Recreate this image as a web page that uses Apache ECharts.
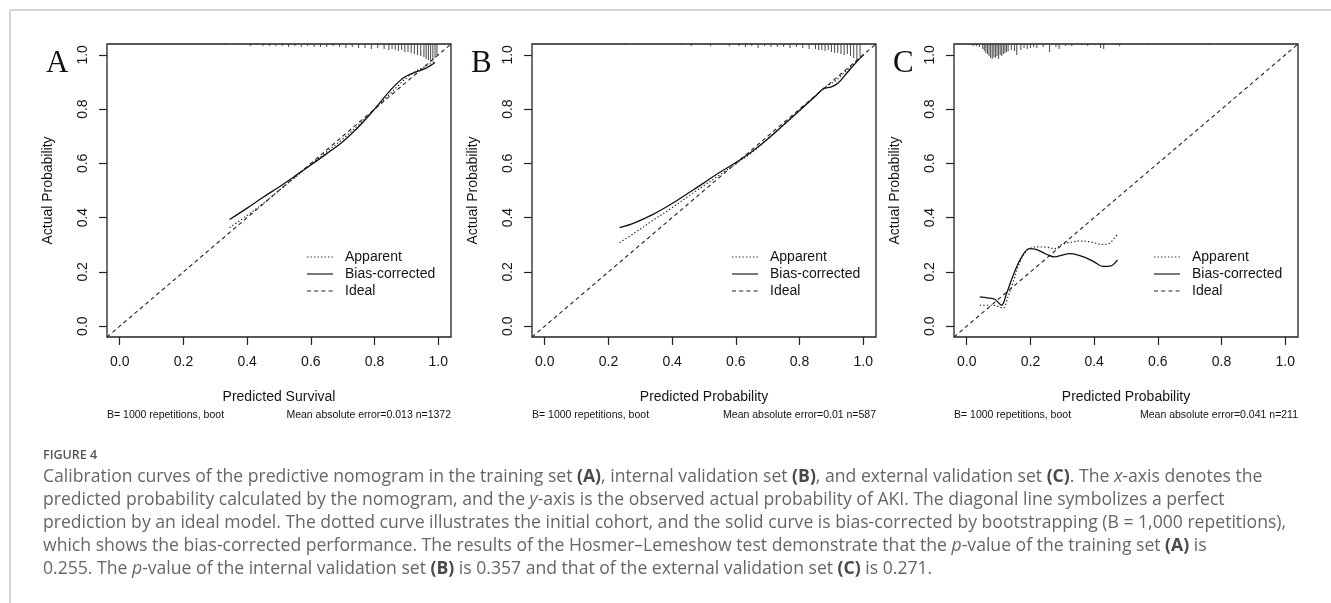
<!DOCTYPE html>
<html><head><meta charset="utf-8">
<script src="https://cdn.jsdelivr.net/npm/echarts@6/dist/echarts.min.js"></script>
<style>html,body{margin:0;padding:0;background:#fff}#c{width:1331px;height:603px}</style>
</head><body><div id="c"></div>
<script>
// ---------- DATA ----------
const tickValues = [0, 0.2, 0.4, 0.6, 0.8, 1.0];
const panelLetters = ['A', 'B', 'C'];
const xTitles = ['Predicted Survival', 'Predicted Probability', 'Predicted Probability'];
const yTitle = 'Actual Probability';
const footLeft = 'B= 1000 repetitions, boot';
const footRight = ['Mean absolute error=0.013 n=1372', 'Mean absolute error=0.01 n=587', 'Mean absolute error=0.041 n=211'];
const legendNames = ['Apparent', 'Bias-corrected', 'Ideal'];

const idealX = [-0.04, 1.04];
const idealY = [-0.04, 1.04];

// Panel A
const aBiasX = [0.345, 0.40, 0.45, 0.50, 0.55, 0.60, 0.65, 0.70, 0.75, 0.80, 0.85, 0.88, 0.90, 0.93, 0.96, 0.99];
const aBiasY = [0.393, 0.435, 0.475, 0.513, 0.553, 0.594, 0.636, 0.680, 0.735, 0.800, 0.870, 0.905, 0.922, 0.937, 0.950, 0.972];
const aAppX  = [0.345, 0.40, 0.45, 0.50, 0.55, 0.60, 0.65, 0.70, 0.75, 0.80, 0.85, 0.88, 0.90, 0.93, 0.96, 0.99];
const aAppY  = [0.363, 0.408, 0.452, 0.500, 0.548, 0.596, 0.643, 0.690, 0.742, 0.800, 0.858, 0.893, 0.915, 0.940, 0.957, 0.978];
const aRugX = [0.33,0.36,0.39,0.41,0.43,0.45,0.47,0.49,0.51,0.53,0.55,0.57,0.59,0.61,0.63,0.65,0.67,0.69,0.71,0.73,0.75,0.77,0.79,0.81,0.83,0.845,0.855,0.865,0.875,0.885,0.895,0.905,0.915,0.925,0.935,0.945,0.955,0.962,0.969,0.976,0.983,0.99,0.996];
const aRugN = [1,1,1,2,1,2,2,2,2,3,2,3,2,3,3,3,2,3,4,3,4,4,5,4,5,6,5,6,7,6,8,8,9,10,11,12,13,15,16,17,16,14,11];

// Panel B
const bBiasX = [0.235, 0.28, 0.34, 0.40, 0.45, 0.50, 0.54, 0.60, 0.65, 0.70, 0.75, 0.80, 0.85, 0.875, 0.90, 0.92, 0.95, 0.98, 1.0];
const bBiasY = [0.363, 0.380, 0.412, 0.452, 0.490, 0.528, 0.560, 0.603, 0.643, 0.690, 0.742, 0.795, 0.848, 0.875, 0.882, 0.895, 0.935, 0.975, 1.0];
const bAppX  = [0.235, 0.28, 0.34, 0.40, 0.45, 0.50, 0.54, 0.60, 0.65, 0.70, 0.75, 0.80, 0.85, 0.875, 0.90, 0.92, 0.95, 0.98, 1.0];
const bAppY  = [0.308, 0.342, 0.390, 0.437, 0.478, 0.518, 0.550, 0.598, 0.640, 0.690, 0.742, 0.795, 0.848, 0.877, 0.895, 0.912, 0.945, 0.978, 1.0];
const bRugX = [0.25,0.29,0.33,0.36,0.40,0.43,0.46,0.49,0.52,0.55,0.58,0.61,0.63,0.65,0.67,0.69,0.71,0.73,0.75,0.77,0.79,0.81,0.83,0.85,0.86,0.87,0.88,0.89,0.90,0.91,0.92,0.93,0.94,0.95,0.96,0.97,0.98,0.99];
const bRugN = [1,1,1,1,1,1,2,1,2,1,2,2,3,2,4,2,3,3,3,4,3,4,5,5,6,6,7,6,8,9,9,10,11,10,12,14,16,13];

// Panel C
const cBiasX = [0.041, 0.065, 0.088, 0.109, 0.125, 0.145, 0.170, 0.197, 0.220, 0.250, 0.276, 0.300, 0.323, 0.350, 0.375, 0.400, 0.427, 0.453, 0.473];
const cBiasY = [0.108, 0.104, 0.099, 0.077, 0.120, 0.185, 0.250, 0.286, 0.282, 0.265, 0.255, 0.262, 0.267, 0.262, 0.252, 0.237, 0.220, 0.222, 0.244];
const cAppX  = [0.041, 0.083, 0.100, 0.114, 0.130, 0.145, 0.165, 0.187, 0.218, 0.250, 0.276, 0.300, 0.330, 0.354, 0.390, 0.427, 0.447, 0.473];
const cAppY  = [0.077, 0.077, 0.072, 0.066, 0.110, 0.160, 0.230, 0.277, 0.292, 0.291, 0.286, 0.302, 0.310, 0.314, 0.310, 0.301, 0.305, 0.338];
const cRugX = [0.01,0.02,0.03,0.04,0.05,0.055,0.06,0.065,0.07,0.075,0.08,0.085,0.09,0.095,0.10,0.105,0.11,0.115,0.12,0.125,0.13,0.14,0.15,0.157,0.17,0.18,0.19,0.20,0.21,0.22,0.24,0.26,0.28,0.29,0.31,0.33,0.36,0.38,0.40,0.42,0.43,0.47,0.48,0.57,0.76];
const cRugN = [1,2,2,3,5,7,9,10,12,14,15,13,14,12,15,11,12,10,9,8,7,6,7,11,6,4,5,4,3,4,3,8,3,5,2,2,1,2,1,4,5,1,2,1,1];

const captionLabel = 'FIGURE 4';
const captionLines = [
  'Calibration curves of the predictive nomogram in the training set {b|(A)}, internal validation set {b|(B)}, and external validation set {b|(C)}. The {i|x}-axis denotes the',
  'predicted probability calculated by the nomogram, and the {i|y}-axis is the observed actual probability of AKI. The diagonal line symbolizes a perfect',
  'prediction by an ideal model. The dotted curve illustrates the initial cohort, and the solid curve is bias-corrected by bootstrapping (B = 1,000 repetitions),',
  'which shows the bias-corrected performance. The results of the Hosmer\u2013Lemeshow test demonstrate that the {i|p}-value of the training set {b|(A)} is',
  '0.255. The {i|p}-value of the internal validation set {b|(B)} is 0.357 and that of the external validation set {b|(C)} is 0.271.'
];

const panels = [
  {biasX: aBiasX, biasY: aBiasY, appX: aAppX, appY: aAppY, rugX: aRugX, rugN: aRugN},
  {biasX: bBiasX, biasY: bBiasY, appX: bAppX, appY: bAppY, rugX: bRugX, rugN: bRugN},
  {biasX: cBiasX, biasY: cBiasY, appX: cAppX, appY: cAppY, rugX: cRugX, rugN: cRugN}
];

// ---------- LAYOUT ----------
const AX_MIN = -0.04, AX_MAX = 1.04;
const GRID_LEFTS = [107, 532, 954];
const GRID_TOP = 44, GRID_W = 344, GRID_H = 293;
const RUG_UNIT = (AX_MAX - AX_MIN) / GRID_H; // one pixel in y units
const FONT = 'Liberation Sans, Arial, sans-serif';
const INK = '#151515';
const DOTTED = [1.3, 2.2];
const DASHED = [4, 3.2];

const zip = (a, b) => a.map((v, i) => [v, b[i]]);

const grids = [], xAxes = [], yAxes = [], series = [], graphics = [];

panels.forEach((p, i) => {
  const L = GRID_LEFTS[i];
  grids.push({left: L, top: GRID_TOP, width: GRID_W, height: GRID_H, show: true,
    borderColor: '#222', borderWidth: 1.3, backgroundColor: 'rgba(0,0,0,0)'});
  const common = {
    type: 'value', gridIndex: i, min: AX_MIN, max: AX_MAX,
    axisLine: {show: false, onZero: false}, splitLine: {show: false},
    axisTick: {show: true, customValues: tickValues, length: 8, inside: false, lineStyle: {color: '#222', width: 1.2}},
    nameLocation: 'middle',
    nameTextStyle: {fontFamily: FONT, fontSize: 14, color: INK}
  };
  xAxes.push(Object.assign({}, common, {
    position: 'bottom',
    axisLabel: {customValues: tickValues, formatter: v => v.toFixed(1), margin: 18, fontSize: 14, fontFamily: FONT, color: INK},
    name: xTitles[i], nameGap: 53
  }));
  yAxes.push(Object.assign({}, common, {
    position: 'left',
    axisLabel: {customValues: tickValues, formatter: v => v.toFixed(1), rotate: 90, margin: 17, fontSize: 14, fontFamily: FONT, color: INK},
    name: yTitle, nameGap: 52
  }));

  series.push({type: 'line', name: 'Ideal', xAxisIndex: i, yAxisIndex: i, data: zip(idealX, idealY),
    symbol: 'none', lineStyle: {color: '#222', width: 1.1, type: DASHED}, silent: true, z: 2});
  series.push({type: 'line', name: 'Apparent', xAxisIndex: i, yAxisIndex: i, data: zip(p.appX, p.appY),
    symbol: 'none', smooth: 0.35, lineStyle: {color: '#222', width: 1.2, type: DOTTED}, silent: true, z: 3});
  series.push({type: 'line', name: 'Bias-corrected', xAxisIndex: i, yAxisIndex: i, data: zip(p.biasX, p.biasY),
    symbol: 'none', smooth: 0.35, lineStyle: {color: '#111', width: 1.3, type: 'solid'}, silent: true, z: 4});
  series.push({type: 'custom', name: 'rug', xAxisIndex: i, yAxisIndex: i, data: zip(p.rugX, p.rugN),
    encode: {x: 0, y: 1}, silent: true, z: 5,
    renderItem: (params, api) => {
      const x = api.value(0), n = api.value(1);
      const p0 = api.coord([x, AX_MAX]);
      const p1 = api.coord([x, AX_MAX - n * RUG_UNIT]);
      return {type: 'line', shape: {x1: p0[0], y1: p0[1], x2: p1[0], y2: p1[1]},
        style: {stroke: '#333', lineWidth: 0.9}};
    }});

  // panel letter
  graphics.push({type: 'text', left: L - 61, top: 48, silent: true,
    style: {text: panelLetters[i], font: '31px "Liberation Serif", "Times New Roman", serif', fill: '#111'}});
  // legend
  const dashes = [DOTTED, null, DASHED];
  legendNames.forEach((nm, k) => {
    const y = 257 + k * 17;
    graphics.push({type: 'line', silent: true,
      shape: {x1: L + 200, y1: y, x2: L + 226, y2: y},
      style: {stroke: '#222', lineWidth: 1.2, lineDash: dashes[k]}});
    graphics.push({type: 'text', silent: true, x: L + 238, y: y,
      style: {text: nm, font: '14px ' + FONT, fill: INK, textVerticalAlign: 'middle'}});
  });
  // footers
  graphics.push({type: 'text', silent: true, x: L, y: 415,
    style: {text: footLeft, font: '10.5px ' + FONT, fill: '#111', textVerticalAlign: 'middle'}});
  graphics.push({type: 'text', silent: true, x: L + GRID_W, y: 415,
    style: {text: footRight[i], font: '10.5px ' + FONT, fill: '#111', textAlign: 'right', textVerticalAlign: 'middle'}});
});

// frame lines
graphics.push({type: 'line', silent: true, shape: {x1: 10, y1: 10, x2: 1331, y2: 10}, style: {stroke: '#c9c9c9', lineWidth: 1.5}});
graphics.push({type: 'line', silent: true, shape: {x1: 10, y1: 10, x2: 10, y2: 603}, style: {stroke: '#c9c9c9', lineWidth: 1.5}});

// caption
const CAP_FONT = '"Open Sans", "Noto Sans", sans-serif';
const CAP_SIZE = 17.6;
graphics.push({type: 'text', silent: true, x: 43, y: 455.5,
  style: {text: captionLabel, fontFamily: CAP_FONT, fontSize: 12.5, fontWeight: 600, fill: '#555', textVerticalAlign: 'middle'}});
captionLines.forEach((t, k) => {
  graphics.push({type: 'text', silent: true, x: 43, y: 476.5 + k * 23,
    style: {text: t, fontFamily: CAP_FONT, fontSize: CAP_SIZE, fill: '#666', textVerticalAlign: 'middle',
      rich: {
        b: {fontFamily: CAP_FONT, fontSize: CAP_SIZE, fontWeight: 'bold', fill: '#4a4a4a'},
        i: {fontFamily: CAP_FONT, fontSize: CAP_SIZE, fontStyle: 'italic', fill: '#666'}
      }}});
});

const chart = echarts.init(document.getElementById('c'), null, {renderer: 'canvas'});
chart.setOption({
  animation: false,
  backgroundColor: '#fff',
  grid: grids, xAxis: xAxes, yAxis: yAxes, series: series,
  graphic: graphics
});
</script></body></html>
